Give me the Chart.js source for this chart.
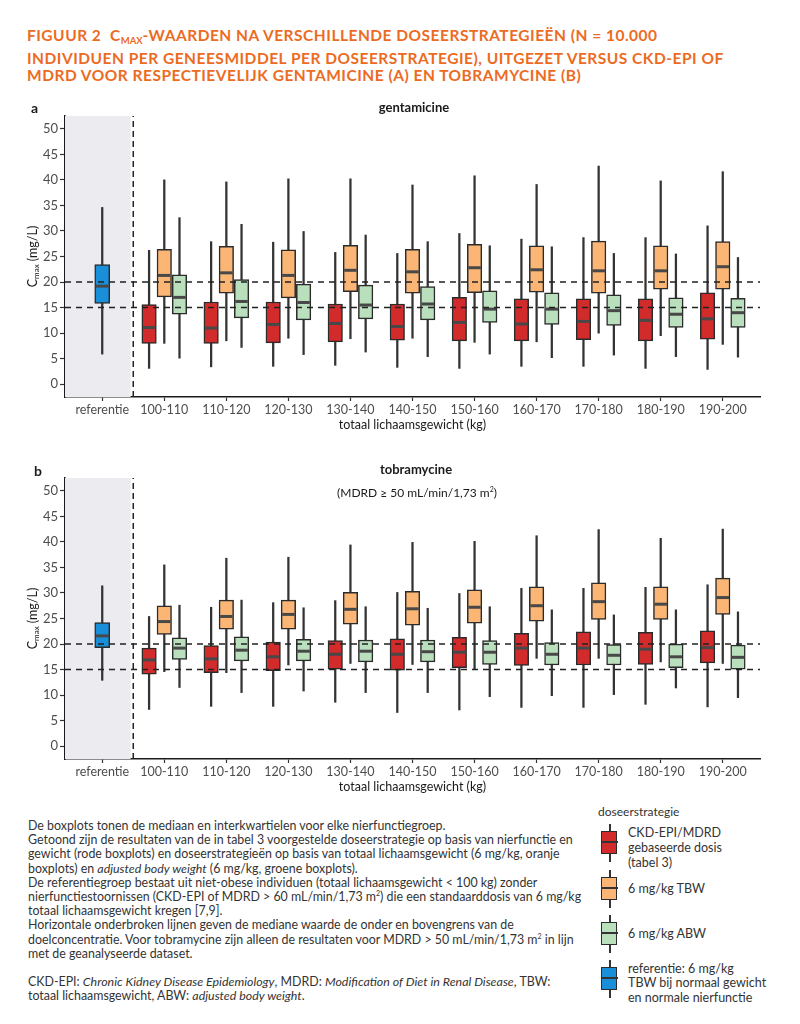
<!DOCTYPE html>
<html lang="nl">
<head>
<meta charset="utf-8">
<title>Figuur 2</title>
<script src="https://cdn.jsdelivr.net/npm/chart.js@4.4.1/dist/chart.umd.min.js"></script>
<style>
  body { margin: 0; background: #fff; font-family: Lato, "Open Sans", sans-serif; }
  #pagina { position: relative; width: 800px; height: 1024px; overflow: hidden; }
  .kop { position: absolute; left: 27px; top: 27px; color: #EC6B1F; font-weight: bold; font-size: 15.5px; letter-spacing: 0.5px; line-height: 17.5px; white-space: nowrap; }
  .kop .sub { font-size: 9.5px; vertical-align: -3px; letter-spacing: 0; }
  canvas { position: absolute; left: 0; }
  .paneel { position: absolute; font-weight: bold; font-size: 14px; color: #1a1a1a; transform: translateY(-50%); }
  .titel { position: absolute; font-weight: bold; font-size: 13px; color: #1a1a1a; transform: translate(-50%, -50%); white-space: nowrap; }
  .subtitel { position: absolute; font-size: 12px; color: #1a1a1a; transform: translate(-50%, -50%); white-space: nowrap; }
  .subtitel sup { font-size: 7px; vertical-align: 5px; }
  .voet { position: absolute; left: 28px; top: 819px; font-size: 12.4px; line-height: 14.2px; color: #333; white-space: nowrap; }
  .voet sup { font-size: 7px; vertical-align: 5px; line-height: 0; }
  .lg-kop { position: absolute; left: 598px; top: 804px; font-size: 12px; line-height: 15px; color: #333; }
  .lg-ikoon { position: absolute; left: 601px; width: 17px; height: 38px; }
  .lg-ikoon .snor { position: absolute; left: 7.5px; top: 0; width: 2px; height: 38px; background: #333; }
  .lg-ikoon .doos { position: absolute; left: 0; top: 7px; width: 14px; height: 21px; border: 1.5px solid #2b2b2b; }
  .lg-ikoon .med { position: absolute; left: 0; top: 17px; width: 17px; height: 1.5px; background: #333; }
  .lg-tekst { position: absolute; left: 628px; font-size: 12.5px; line-height: 15px; color: #333; white-space: nowrap; }
</style>
</head>
<body>
<div id="pagina">
  <div class="kop">FIGUUR 2&nbsp; C<span class="sub">MAX</span>-WAARDEN NA VERSCHILLENDE DOSEERSTRATEGIEËN (N = 10.000<br>INDIVIDUEN PER GENEESMIDDEL PER DOSEERSTRATEGIE), UITGEZET VERSUS CKD-EPI OF<br>MDRD VOOR RESPECTIEVELIJK GENTAMICINE (A) EN TOBRAMYCINE (B)</div>

  <canvas id="grafiekA" width="800" height="340" style="top:95px"></canvas>
  <canvas id="grafiekB" width="800" height="357" style="top:440px"></canvas>

  <div class="paneel" style="left:31px; top:107px">a</div>
  <div class="titel" style="left:414px; top:107px">gentamicine</div>
  <div class="paneel" style="left:34px; top:470px">b</div>
  <div class="titel" style="left:416px; top:469px">tobramycine</div>
  <div class="subtitel" style="left:417px; top:492px">(MDRD ≥ 50 mL/min/1,73 m<sup>2</sup>)</div>

  <div class="voet">De boxplots tonen de mediaan en interkwartielen voor elke nierfunctiegroep.<br>Getoond zijn de resultaten van de in tabel 3 voorgestelde doseerstrategie op basis van nierfunctie en<br>gewicht (rode boxplots) en doseerstrategieën op basis van totaal lichaamsgewicht (6 mg/kg, oranje<br>boxplots) en <i>adjusted body weight</i> (6 mg/kg, groene boxplots).<br>De referentiegroep bestaat uit niet-obese individuen (totaal lichaamsgewicht &lt; 100 kg) zonder<br>nierfunctiestoornissen (CKD-EPI of MDRD &gt; 60 mL/min/1,73 m<sup>2</sup>) die een standaarddosis van 6 mg/kg<br>totaal lichaamsgewicht kregen [7,9].<br>Horizontale onderbroken lijnen geven de mediane waarde de onder en bovengrens van de<br>doelconcentratie. Voor tobramycine zijn alleen de resultaten voor MDRD &gt; 50 mL/min/1,73 m<sup>2</sup> in lijn<br>met de geanalyseerde dataset.<br><br>CKD-EPI: <i>Chronic Kidney Disease Epidemiology</i>, MDRD: <i>Modification of Diet in Renal Disease</i>, TBW:<br>totaal lichaamsgewicht, ABW: <i>adjusted body weight</i>.</div>

  <div class="lg-kop">doseerstrategie</div>
  <div class="lg-ikoon" style="top:824px"><span class="snor"></span><span class="doos" style="background:#D22B2B"></span><span class="med"></span></div>
  <div class="lg-tekst" style="top:824.5px">CKD-EPI/MDRD<br>gebaseerde dosis<br>(tabel 3)</div>
  <div class="lg-ikoon" style="top:870px"><span class="snor"></span><span class="doos" style="background:#FBB676"></span><span class="med"></span></div>
  <div class="lg-tekst" style="top:880.5px">6 mg/kg TBW</div>
  <div class="lg-ikoon" style="top:915px"><span class="snor"></span><span class="doos" style="background:#BADFBC"></span><span class="med"></span></div>
  <div class="lg-tekst" style="top:925.5px">6 mg/kg ABW</div>
  <div class="lg-ikoon" style="top:960px"><span class="snor"></span><span class="doos" style="background:#1A8FD9"></span><span class="med"></span></div>
  <div class="lg-tekst" style="top:961.5px; line-height:14.5px">referentie: 6 mg/kg<br>TBW bij normaal gewicht<br>en normale nierfunctie</div>
</div>

<script>
const categorieen = ['referentie', '100-110', '110-120', '120-130', '130-140', '140-150',
    '150-160', '160-170', '170-180', '180-190', '190-200'];
const yTicks = [0, 5, 10, 15, 20, 25, 30, 35, 40, 45, 50];
const doelGrenzen = [15, 20];

// per gewichtsklasse: [min, q1, mediaan, q3, max] in mg/L
const gentRef = [[5.9, 15.8, 19.2, 23.4, 34.6]];
const gentRood = [
    [3.1, 8.0, 11.1, 15.6, 26.2], [3.4, 8.0, 11.0, 16.1, 27.9], [3.5, 8.1, 11.7, 16.1, 27.8],
    [3.7, 8.3, 11.9, 15.7, 25.8], [3.3, 8.6, 11.3, 15.7, 25.6], [3.1, 8.5, 12.1, 17.0, 29.5],
    [3.5, 8.5, 11.8, 16.7, 28.4], [3.5, 8.7, 12.3, 16.7, 28.7], [3.1, 8.5, 12.5, 16.7, 28.7],
    [2.9, 8.8, 12.8, 17.9, 31.0]
];
const gentOranje = [
    [8.0, 17.1, 21.3, 26.4, 40.0], [8.5, 17.8, 21.8, 27.0, 39.6], [9.0, 16.9, 21.3, 26.3, 40.2],
    [8.9, 18.1, 22.3, 27.2, 40.2], [9.0, 17.8, 22.0, 26.4, 39.0], [8.2, 17.9, 22.8, 27.4, 40.8],
    [8.3, 18.0, 22.4, 27.1, 39.1], [10.0, 17.8, 22.2, 28.0, 42.7], [9.5, 18.6, 22.2, 27.1, 39.8],
    [7.8, 18.6, 23.0, 27.9, 41.6]
];
const gentGroen = [
    [5.1, 13.7, 17.0, 21.4, 32.6], [7.2, 13.0, 16.2, 20.5, 31.3], [5.8, 12.6, 16.0, 19.6, 29.9],
    [6.3, 12.8, 15.5, 19.4, 29.2], [5.4, 12.6, 15.7, 19.1, 27.9], [5.9, 12.1, 14.7, 18.3, 27.1],
    [5.2, 11.7, 14.7, 17.9, 26.9], [5.7, 11.5, 14.4, 17.5, 25.6], [5.4, 11.1, 13.7, 16.9, 25.5],
    [5.3, 11.1, 14.0, 16.8, 24.8]
];

const tobraRef = [[12.9, 19.3, 21.6, 24.2, 31.4]];
const tobraRood = [
    [7.2, 14.1, 16.9, 19.2, 25.4], [7.8, 14.4, 17.1, 19.7, 27.2], [7.8, 14.8, 17.5, 20.4, 28.1],
    [8.6, 15.1, 18.0, 20.7, 28.5], [6.6, 14.9, 18.0, 21.0, 30.1], [7.1, 15.4, 18.4, 21.3, 29.9],
    [7.6, 15.8, 19.2, 22.1, 30.9], [7.6, 15.9, 19.2, 22.4, 30.9], [8.2, 16.0, 19.0, 22.3, 31.1],
    [7.7, 16.3, 19.3, 22.6, 31.6]
];
const tobraOranje = [
    [14.6, 21.9, 24.4, 27.5, 35.5], [14.4, 22.9, 25.4, 28.6, 36.8], [15.9, 22.9, 25.8, 28.6, 37.0],
    [16.2, 23.9, 26.8, 30.1, 39.4], [16.0, 23.7, 26.9, 30.3, 39.9], [15.1, 24.1, 27.2, 30.6, 40.1],
    [17.2, 24.5, 27.5, 31.2, 41.2], [17.2, 24.8, 28.3, 32.0, 42.4], [16.5, 24.8, 27.8, 31.2, 40.7],
    [16.2, 25.8, 29.1, 32.9, 42.5]
];
const tobraGroen = [
    [11.5, 17.0, 19.2, 21.2, 27.6], [10.5, 16.7, 18.8, 21.4, 28.6], [10.8, 16.7, 18.6, 20.9, 27.1],
    [10.5, 16.5, 18.6, 20.8, 27.3], [10.5, 16.5, 18.5, 20.8, 27.0], [9.7, 16.0, 18.4, 20.7, 27.3],
    [9.9, 15.9, 18.0, 20.3, 26.7], [10.1, 15.9, 17.8, 19.9, 25.7], [11.4, 15.4, 17.5, 20.0, 26.7],
    [9.5, 15.1, 17.4, 19.8, 26.3]
];

const kleuren = { rood: '#D22B2B', oranje: '#FBB676', groen: '#BADFBC', blauw: '#1A8FD9' };

Chart.defaults.font.family = 'Lato, "Open Sans", sans-serif';

// y-as titel met subscript (Cmax)
const yTitelPlugin = {
    id: 'yTitel',
    afterDraw(chart) {
        const { ctx, chartArea } = chart;
        const groot = '12.5px Lato', klein = '8px Lato';
        ctx.save();
        ctx.translate(33, (chartArea.top + chartArea.bottom) / 2);
        ctx.rotate(-Math.PI / 2);
        ctx.fillStyle = '#1a1a1a';
        ctx.textBaseline = 'middle';
        ctx.font = groot;
        const wC = ctx.measureText('C').width;
        const wRest = ctx.measureText(' (mg/L)').width;
        ctx.font = klein;
        const wSub = ctx.measureText('max').width;
        let x = -(wC + wSub + wRest) / 2;
        ctx.font = groot;
        ctx.fillText('C', x, 0);
        x += wC;
        ctx.font = klein;
        ctx.fillText('max', x, 3.5);
        x += wSub;
        ctx.font = groot;
        ctx.fillText(' (mg/L)', x, 0);
        ctx.restore();
    }
};

function boxplotSets(stats, start, verschuiving, kleur, breedte) {
    const xPos = i => start + i + verschuiving;
    return [
        { // snorharen
            type: 'bar', grouped: false, order: 5, barThickness: 1.6,
            backgroundColor: '#333',
            data: stats.map((s, i) => ({ x: xPos(i), y: [s[0], s[4]] }))
        },
        { // doos
            type: 'bar', grouped: false, order: 4, barThickness: breedte,
            backgroundColor: kleur, borderColor: '#2b2b2b', borderWidth: 1.5, borderSkipped: false,
            data: stats.map((s, i) => ({ x: xPos(i), y: [s[1], s[3]] }))
        },
        { // mediaan
            type: 'scatter', order: 3, pointStyle: 'line',
            pointRadius: breedte / 2 - 1, pointBorderWidth: 3, pointBorderColor: '#484848',
            data: stats.map((s, i) => ({ x: xPos(i), y: s[2] }))
        }
    ];
}

function createChart(canvasId, ref, rood, oranje, groen, boven) {
    const ctx = document.getElementById(canvasId).getContext('2d');
    const datasets = [
        { // grijze referentiezone
            type: 'line', order: 10, fill: 'start', backgroundColor: '#EBEBF0',
            borderWidth: 0, borderColor: 'transparent', pointRadius: 0,
            data: [{ x: -0.6, y: 52.5 }, { x: 0.46, y: 52.5 }]
        },
        ...boxplotSets(ref, 0, 0, kleuren.blauw, 15),
        ...boxplotSets(rood, 1, -0.245, kleuren.rood, 14.5),
        ...boxplotSets(oranje, 1, 0, kleuren.oranje, 14.5),
        ...boxplotSets(groen, 1, 0.245, kleuren.groen, 14.5),
        ...doelGrenzen.map(g => ({
            type: 'line', order: 0, borderColor: '#222', borderWidth: 1.5, borderDash: [6, 5],
            pointRadius: 0, data: [{ x: -0.6, y: g }, { x: 10.6, y: g }]
        })),
        {
            type: 'line', order: 0, borderColor: '#222', borderWidth: 1.5, borderDash: [6, 4],
            pointRadius: 0, data: [{ x: 0.5, y: -2.5 }, { x: 0.5, y: 52.5 }]
        }
    ];
    return new Chart(ctx, {
        type: 'bar',
        data: { datasets },
        plugins: [yTitelPlugin],
        options: {
            responsive: false,
            animation: false,
            events: [],
            layout: { padding: { top: boven, right: 40, left: 0, bottom: 0 } },
            plugins: { legend: { display: false }, tooltip: { enabled: false } },
            scales: {
                x: {
                    type: 'linear', min: -0.6, max: 10.6, offset: false,
                    grid: { display: true, drawOnChartArea: false, offset: false, tickLength: 4, tickColor: '#333', tickWidth: 1.2 },
                    border: { color: '#1a1a1a', width: 1.6 },
                    afterBuildTicks: as => { as.ticks = categorieen.map((c, i) => ({ value: i })); },
                    ticks: {
                        autoSkip: false, maxRotation: 0, minRotation: 0, padding: 1,
                        color: '#4d4d4d', font: { size: 12.5 },
                        callback: v => categorieen[v]
                    },
                    title: {
                        display: true, text: 'totaal lichaamsgewicht (kg)', color: '#1a1a1a',
                        font: { size: 12.5 }, padding: { top: 0, bottom: 3 }
                    },
                    afterFit: s => { s.height = 38; }
                },
                y: {
                    min: -2.5, max: 52.5,
                    grid: { display: true, drawOnChartArea: false, tickLength: 5, tickColor: '#333', tickWidth: 1.2 },
                    border: { color: '#1a1a1a', width: 1.6 },
                    afterBuildTicks: as => { as.ticks = yTicks.map(v => ({ value: v })); },
                    ticks: { padding: 2, color: '#4d4d4d', font: { size: 13 } },
                    afterFit: s => { s.width = 65; }
                }
            }
        }
    });
}

document.addEventListener('DOMContentLoaded', function() {
    createChart('grafiekA', gentRef, gentRood, gentOranje, gentGroen, 21);
    createChart('grafiekB', tobraRef, tobraRood, tobraOranje, tobraGroen, 38);
});
</script>
</body>
</html>
